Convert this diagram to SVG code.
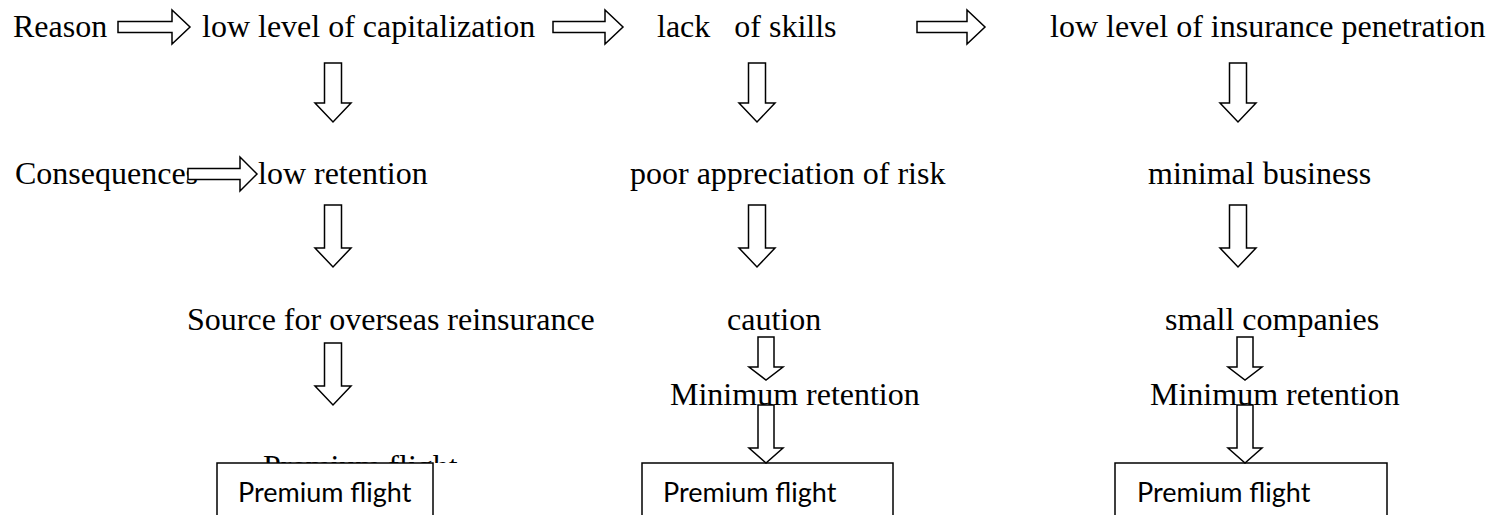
<svg xmlns="http://www.w3.org/2000/svg" width="1494" height="515" viewBox="0 0 1494 515">
<style>
.t{font-family:"Liberation Serif","Times New Roman",serif;font-size:32px;fill:#000;white-space:pre}
.b{font-family:Lato,"Noto Sans",sans-serif;font-size:27px;fill:#000}
.ar{fill:#fff;stroke:#000;stroke-width:1.5;stroke-linejoin:miter}
.box{fill:#fff;stroke:#000;stroke-width:1.5}
</style>
<defs>
<clipPath id="above"><rect x="0" y="440" width="1494" height="23"/></clipPath>
</defs>
<rect width="1494" height="515" fill="#fff"/>
<g id="reason"><text class="t" x="13" y="37">Reason</text></g>
<g id="cap"><text class="t" x="202" y="37">low level of capitalization</text></g>
<g id="skills"><text class="t" x="657" y="37" xml:space="preserve">lack   of skills</text></g>
<g id="insurance"><text class="t" x="1050" y="37">low level of insurance penetration</text></g>
<g id="consequences"><text class="t" x="15" y="184">Consequences</text></g>
<g id="lowret"><text class="t" x="258" y="184">low retention</text></g>
<g id="poor"><text class="t" x="630" y="184">poor appreciation of risk</text></g>
<g id="minimal"><text class="t" x="1148" y="184">minimal business</text></g>
<g id="source"><text class="t" x="187" y="330">Source for overseas reinsurance</text></g>
<g id="caution"><text class="t" x="727" y="330">caution</text></g>
<g id="small"><text class="t" x="1165" y="330">small companies</text></g>
<g id="minret2"><text class="t" x="670" y="405">Minimum retention</text></g>
<g id="minret3"><text class="t" x="1150" y="405">Minimum retention</text></g>
<g id="pf1">
<text class="t" x="263" y="477" clip-path="url(#above)">Premium flight</text>
<rect class="box" x="217" y="463" width="216" height="70"/>
<text class="b" x="238" y="502">Premium flight</text>
</g>
<g id="pf2">
<rect class="box" x="642" y="463" width="251" height="70"/>
<text class="b" x="663" y="502">Premium flight</text>
</g>
<g id="pf3">
<rect class="box" x="1115" y="463" width="272" height="70"/>
<text class="b" x="1137" y="502">Premium flight</text>
</g>
<g id="connectors">
<path class="ar" d="M118 21.5H172V10L190 27L172 44V32.5H118Z"/>
<path class="ar" d="M553 21.5H605V10L623 27L605 44V32.5H553Z"/>
<path class="ar" d="M917 21.5H967V10L985 27L967 44V32.5H917Z"/>
<path class="ar" d="M188 168.5H240V157L257 174L240 191V179.5H188Z"/>
<path class="ar" d="M324.5 63H341.5V103H351L333 122L315 103H324.5Z"/>
<path class="ar" d="M324.5 205H341.5V248H351L333 267L315 248H324.5Z"/>
<path class="ar" d="M324.5 343H341.5V386H351L333 405L315 386H324.5Z"/>
<path class="ar" d="M748.5 63H765.5V103H775L757 122L739 103H748.5Z"/>
<path class="ar" d="M748.5 205H765.5V248H775L757 267L739 248H748.5Z"/>
<path class="ar" d="M1229.5 63H1246.5V103H1256L1238 122L1220 103H1229.5Z"/>
<path class="ar" d="M1229.5 205H1246.5V248H1256L1238 267L1220 248H1229.5Z"/>
<path class="ar" d="M758 337H774V367H783L766 380L749 367H758Z"/>
<path class="ar" d="M758 405H774V448H783L766 463L749 448H758Z"/>
<path class="ar" d="M1237 337H1253V367H1262L1245 380L1228 367H1237Z"/>
<path class="ar" d="M1237 405H1253V448H1262L1245 463L1228 448H1237Z"/>
</g>
</svg>
